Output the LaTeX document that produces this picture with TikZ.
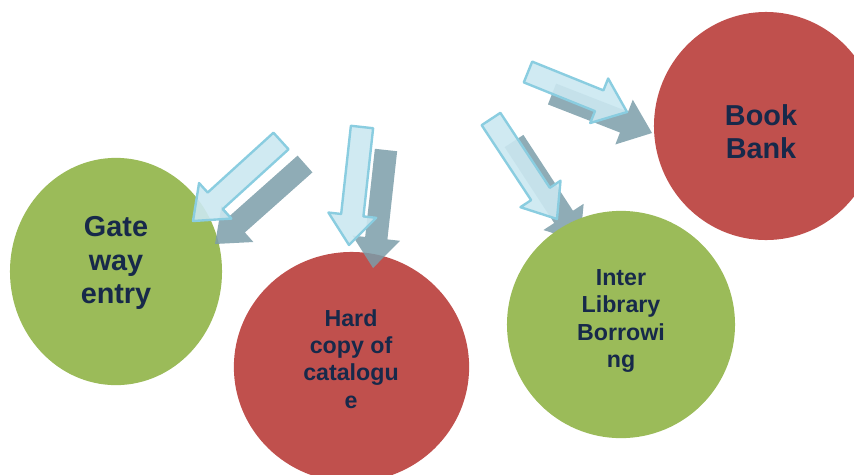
\documentclass[tikz,border=0pt]{standalone}
\usepackage{fontspec}
\setmainfont{Liberation Sans}
\usetikzlibrary{calc, shapes.geometric}

\definecolor{discgreen}{HTML}{9BBB59}
\definecolor{discred}{HTML}{C0504D}
\definecolor{labelnavy}{HTML}{17294A}
\definecolor{arrowfill}{HTML}{CBE8F1}
\definecolor{arrowline}{HTML}{8ACDE0}
\definecolor{shadowfill}{HTML}{7B9DA9}

% block arrow: #1 style, #2 tail, #3 tip
\newcommand{\blockarrow}[3]{%
  \coordinate (ba-p) at ($(#3)!0.75cm!(#2)$);
  \path[#1] ($(#2)!0.28cm!90:(#3)$)
    -- ($(ba-p)!0.28cm!-90:(#2)$)
    -- ($(ba-p)!0.6cm!-90:(#2)$)
    -- (#3)
    -- ($(ba-p)!0.6cm!90:(#2)$)
    -- ($(ba-p)!0.28cm!90:(#2)$)
    -- ($(#2)!0.28cm!-90:(#3)$)
    -- cycle;
}

\begin{document}
\begin{tikzpicture}[
  x=0.025cm,
  y=-0.025cm,
  line join=round,
  disc/.style={
    ellipse,
    draw=none,
    inner sep=0pt
  },
  bigtext/.style={
    text=labelnavy,
    font=\bfseries\fontsize{20.5}{24}\selectfont,
    align=center,
    inner sep=0pt,
    anchor=north
  },
  smalltext/.style={
    text=labelnavy,
    font=\bfseries\fontsize{16.5}{19.5}\selectfont,
    align=center,
    inner sep=0pt,
    anchor=north
  },
  lightarrow/.style={
    fill=arrowfill,
    fill opacity=0.9,
    draw=arrowline,
    line width=1.7pt
  },
  shadowarrow/.style={
    fill=shadowfill,
    fill opacity=0.85
  }
]

\clip (0,0) rectangle (854,474);

% =========================================================
% Discs
% =========================================================

\node[disc, fill=discgreen, minimum width=5.3cm, minimum height=5.68cm]
  (gate) at (116,271.5) {};

\node[disc, fill=discred, minimum width=5.88cm, minimum height=5.75cm]
  (hard) at (351.5,367) {};

\node[disc, fill=discred, minimum width=5.6cm, minimum height=5.7cm]
  (book) at (766,126) {};

% =========================================================
% Arrows (shadow first, then the light one)
% =========================================================

\coordinate (gate-tail) at (281,141);
\coordinate (gate-tip) at (193,221);
\coordinate (gate-tail-s) at (305,164);
\coordinate (gate-tip-s) at (215,244);

\coordinate (hard-tail) at (362,127);
\coordinate (hard-tip) at (349,245);
\coordinate (hard-tail-s) at (386,150);
\coordinate (hard-tip-s) at (373,268);

\coordinate (inter-tail) at (491,119);
\coordinate (inter-tip) at (557,219);
\coordinate (inter-tail-s) at (514,141);
\coordinate (inter-tip-s) at (580,242);

\coordinate (book-tail) at (528,72);
\coordinate (book-tip) at (627,112);
\coordinate (book-tail-s) at (552,94);
\coordinate (book-tip-s) at (652,133);

\blockarrow{shadowarrow}{gate-tail-s}{gate-tip-s}
\blockarrow{shadowarrow}{hard-tail-s}{hard-tip-s}
\blockarrow{shadowarrow}{inter-tail-s}{inter-tip-s}
\blockarrow{shadowarrow}{book-tail-s}{book-tip-s}

\blockarrow{lightarrow}{gate-tail}{gate-tip}
\blockarrow{lightarrow}{hard-tail}{hard-tip}
\blockarrow{lightarrow}{inter-tail}{inter-tip}
\blockarrow{lightarrow}{book-tail}{book-tip}

% this disc sits on top of its arrow's shadow
\node[disc, fill=discgreen, minimum width=5.7cm, minimum height=5.68cm]
  (inter) at (621,324.5) {};

% =========================================================
% Labels
% =========================================================

\node[bigtext] (gate-text) at (116,216) {Gate\\way\\entry};

\node[smalltext] (hard-text) at (351,309) {Hard\\copy of\\catalogu\\e};

\node[smalltext] (inter-text) at (621,269) {Inter\\Library\\Borrowi\\ng};

\node[bigtext] (book-text) at (761,104) {Book\\Bank};

\end{tikzpicture}
\end{document}
